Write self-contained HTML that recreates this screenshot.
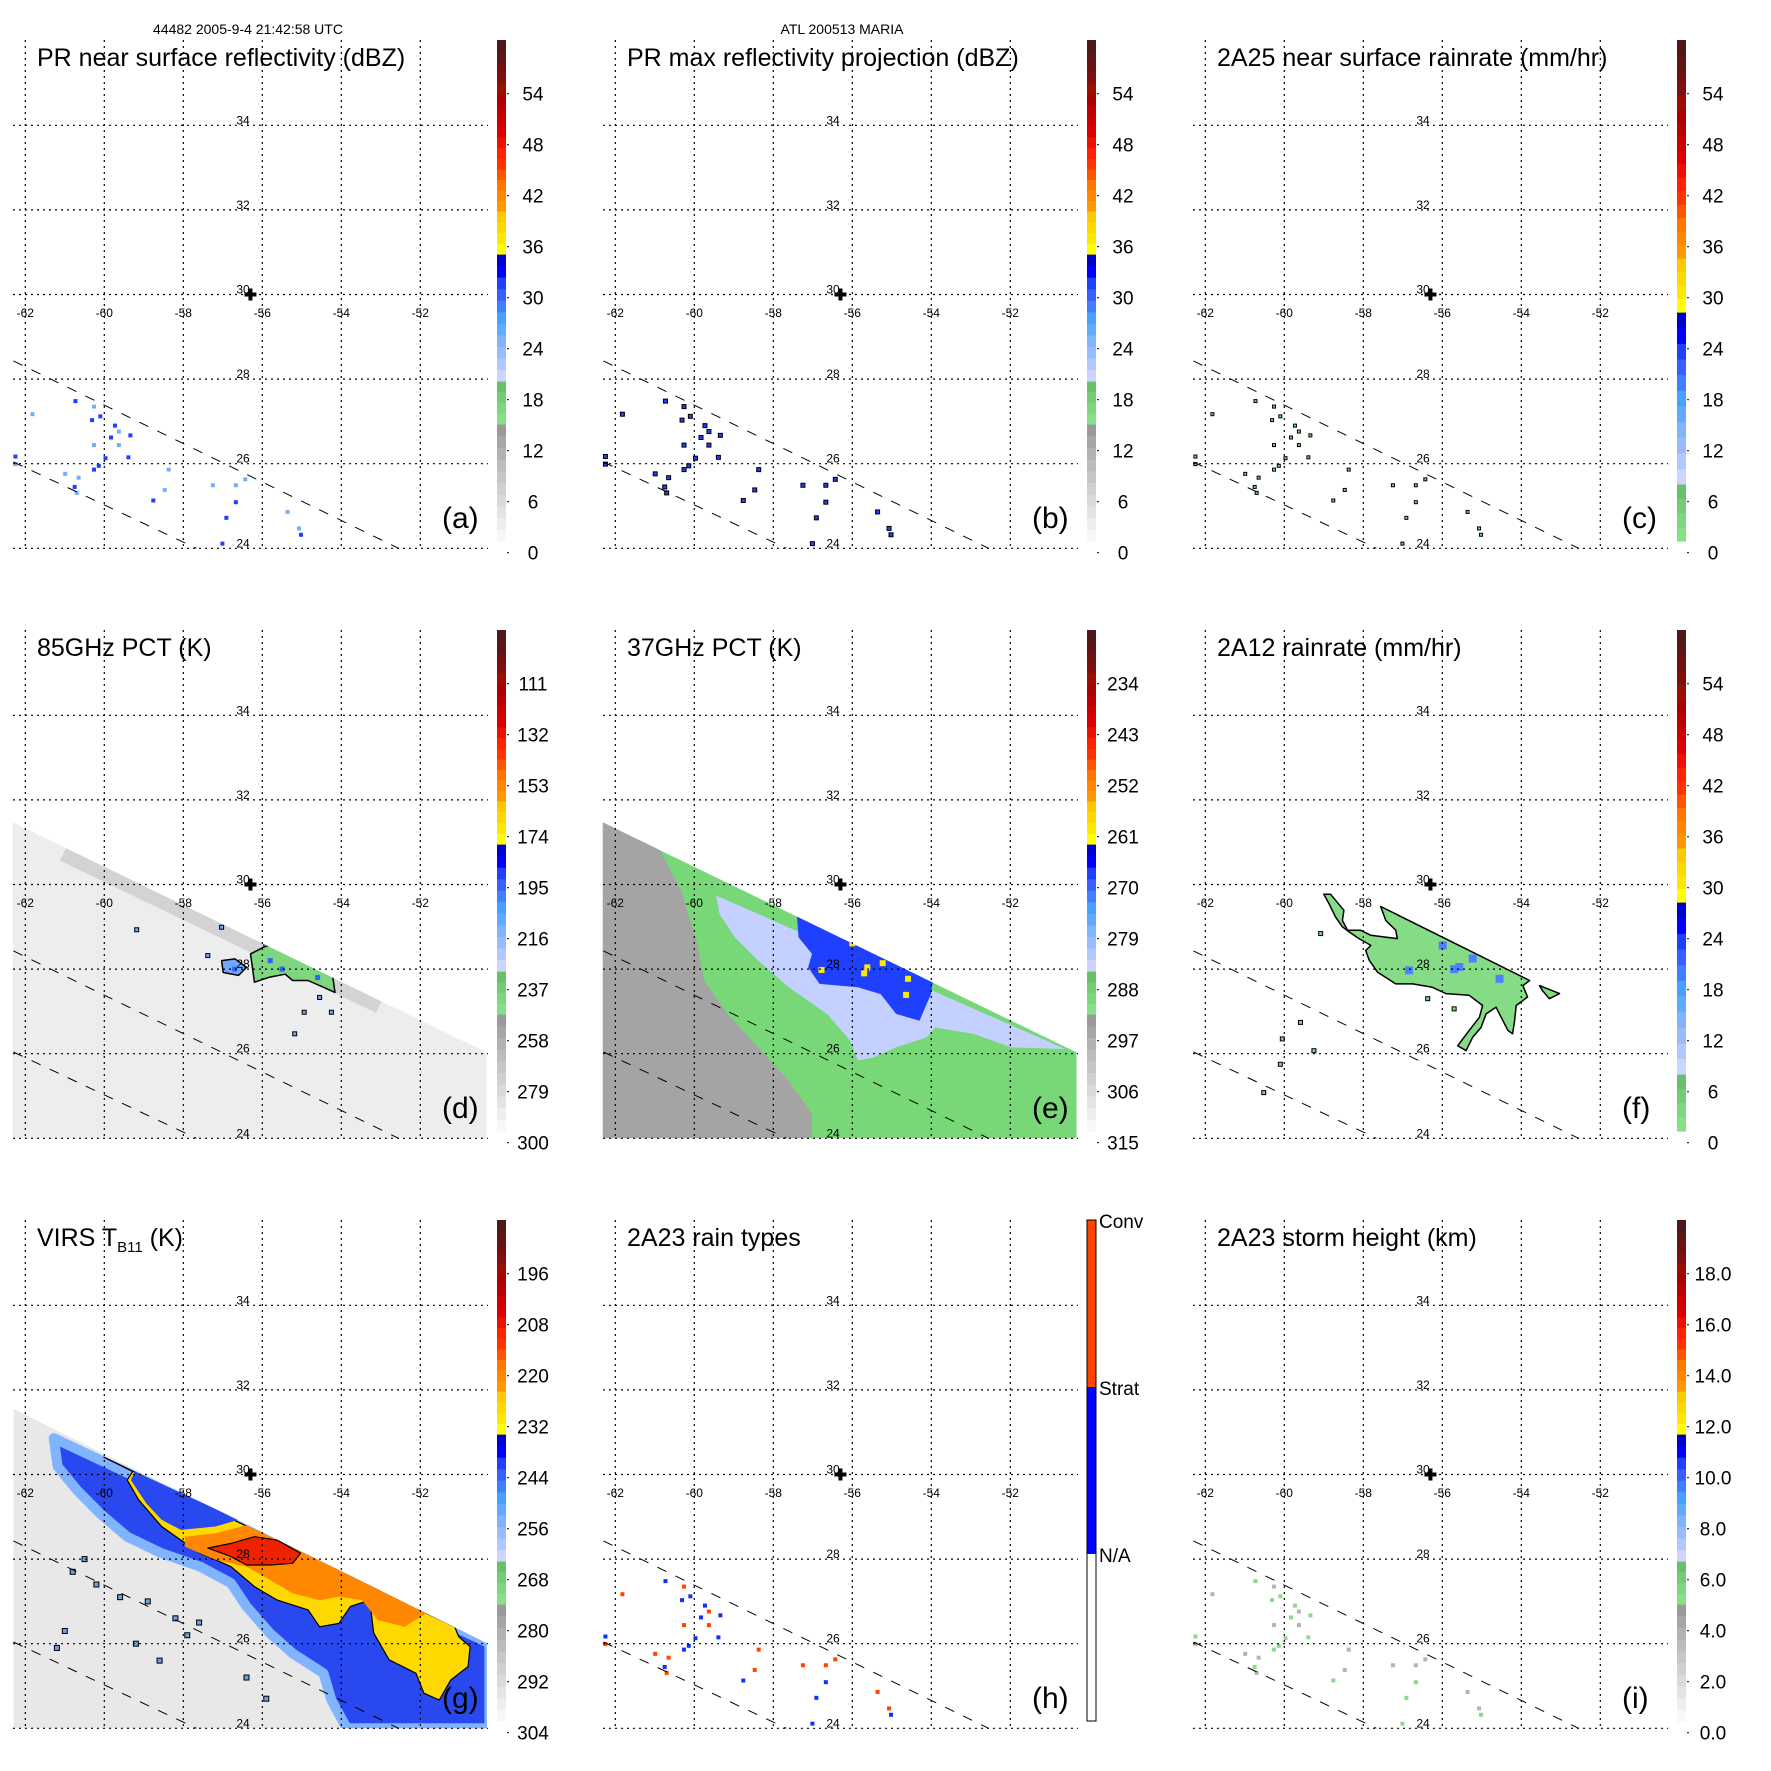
<!DOCTYPE html>
<html><head><meta charset="utf-8"><style>
html,body{margin:0;padding:0;background:#fff;}
svg{display:block;font-family:"Liberation Sans",Arial,sans-serif;}
</style></head><body>
<svg id="fig" width="1771" height="1771" viewBox="0 0 1771 1771" xmlns="http://www.w3.org/2000/svg">
<rect width="1771" height="1771" fill="#fff"/>
<defs id="defs"></defs>
<text x="248" y="34" font-size="14" text-anchor="middle">44482 2005-9-4 21:42:58 UTC</text>
<text x="842" y="34" font-size="14" text-anchor="middle">ATL 200513 MARIA</text>
</svg>
<script>
// ---- data arrays ----
const lonTicks = [-62,-60,-58,-56,-54,-52];
const latTicks = [24,26,28,30,32,34];
const lblRefl = ["0","6","12","18","24","30","36","42","48","54"];
const lbl85 = ["300","279","258","237","216","195","174","153","132","111"];
const lbl37 = ["315","306","297","288","279","270","261","252","243","234"];
const lblVirs = ["304","292","280","268","256","244","232","220","208","196"];
const lblHgt = ["0.0","2.0","4.0","6.0","8.0","10.0","12.0","14.0","16.0","18.0"];
const lblTypes = ["N/A","Strat","Conv"];
const stormCenter = [-56.3, 30.0];
const swathUpper = [[-62.3,28.43],[-52.55,24.0]];
const swathLower = [[-62.3,26.04],[-57.67,24.0]];
const tmiSwath = [[-62.32,31.47],[-50.32,26.03],[-50.32,24.0],[-62.32,24.0]];
const virsSwath = [[-62.30,31.55],[-50.32,26.01],[-50.32,24.0],[-62.30,24.0]];
const prLon = [-60.73,-60.26,-60.10,-59.73,-59.63,-59.83,-59.39,-60.26,-60.26,-60.14,-60.65,-60.75,-62.25,-62.25,-58.37,-56.67,-56.67,-56.91,-55.02,-55.07,-57.01,-56.43,-60.99,-59.97,-59.63,-59.34,-60.70,-58.47,-58.76,-55.36,-61.82,-57.25,-60.31];
const prLat = [27.48,27.35,27.12,26.90,26.76,26.62,26.15,26.44,25.86,25.95,25.67,25.45,26.17,25.99,25.86,25.49,25.09,24.72,24.32,24.47,24.11,25.63,25.76,26.13,26.44,26.67,25.31,25.38,25.13,24.86,27.17,25.49,27.03];
const prType = [1,0,1,1,0,1,1,0,1,1,0,1,1,0,0,0,1,1,1,0,1,0,0,1,0,1,0,0,1,0,0,0,1];
const f_main = [[-59.00,29.77],[-58.83,29.77],[-58.49,29.39],[-58.53,29.15],[-58.40,28.92],[-58.07,28.92],[-57.81,28.80],[-57.14,28.72],[-57.18,28.92],[-57.43,29.15],[-57.56,29.48],[-53.79,27.73],[-53.96,27.61],[-53.84,27.34],[-54.13,27.14],[-54.17,26.78],[-54.22,26.47],[-54.34,26.55],[-54.64,27.10],[-54.89,26.94],[-55.02,26.62],[-55.23,26.39],[-55.40,26.07],[-55.61,26.19],[-55.32,26.55],[-55.06,26.86],[-54.98,27.14],[-55.32,27.38],[-55.91,27.42],[-56.25,27.57],[-56.75,27.65],[-57.18,27.65],[-57.64,27.93],[-57.85,28.21],[-57.94,28.44],[-57.81,28.56],[-58.11,28.72],[-58.36,28.88],[-58.53,29.00],[-58.70,29.23],[-58.87,29.55]];
const f_tail = [[-53.54,27.61],[-53.03,27.42],[-53.29,27.30],[-53.46,27.49]];
const f_blueLon = [-55.57,-55.23,-54.55,-55.99,-56.84,-55.70];
const f_blueLat = [28.05,28.25,27.77,28.56,27.97,28.00];
const f_smallLon = [-59.59,-60.10,-60.52,-59.08,-56.37,-55.70,-59.25,-60.05];
const f_smallLat = [26.74,25.75,25.08,28.84,27.30,27.06,26.07,26.35];
const d_main = [[-56.30,28.36],[-55.81,28.59],[-55.23,28.52],[-54.55,28.16],[-54.25,28.04],[-54.16,27.45],[-54.45,27.57],[-54.84,27.73],[-55.23,27.73],[-55.42,27.88],[-55.81,27.81],[-56.20,27.69],[-56.25,28.04]];
const d_blob = [[-57.03,28.20],[-56.69,28.24],[-56.40,28.04],[-56.60,27.85],[-56.99,27.92]];
const d_smallLon = [-57.03,-57.38,-55.91,-54.55,-54.94,-54.25,-55.18,-59.18];
const d_smallLat = [28.99,28.32,28.59,27.33,26.98,26.98,26.47,28.93];
const e_gray = [[-62.32,31.47],[-60.91,30.88],[-60.33,29.85],[-59.94,28.67],[-59.75,27.73],[-59.16,26.94],[-58.38,26.15],[-57.61,25.36],[-57.02,24.58],[-57.02,24.0],[-62.32,24.0]];
const e_light = [[-59.45,29.74],[-50.61,26.11],[-51.97,26.15],[-52.94,26.47],[-53.91,26.62],[-54.11,26.39],[-54.89,26.15],[-55.47,25.91],[-55.86,25.84],[-56.05,26.31],[-56.64,26.94],[-57.61,27.57],[-58.38,28.20],[-58.97,28.75],[-59.36,29.30]];
const e_dark = [[-57.41,29.34],[-53.91,28.0],[-54.01,27.41],[-54.30,26.78],[-54.89,26.94],[-55.28,27.41],[-55.86,27.57],[-56.83,27.65],[-57.12,28.04],[-57.02,28.36],[-57.36,28.75]];
const e_yLon = [-56.78,-55.62,-55.23,-54.59,-54.64,-56.0,-55.70];
const e_yLat = [27.98,28.04,28.14,27.77,27.39,28.61,27.90];
const g_blue = [[-61.28,30.86],[-50.25,26.01],[-50.25,24.0],[-53.86,24.0],[-54.25,24.67],[-54.45,25.30],[-55.23,25.77],[-55.81,26.25],[-56.40,26.88],[-56.79,27.43],[-57.57,27.82],[-58.55,28.14],[-59.42,28.53],[-60.11,29.08],[-60.69,29.63],[-61.18,30.19]];
const g_yellow = [[-60.01,30.41],[-51.13,26.40],[-51.03,26.17],[-50.74,25.93],[-50.79,25.46],[-51.23,25.14],[-51.52,24.67],[-51.91,24.83],[-52.11,25.30],[-52.79,25.62],[-53.18,26.25],[-53.28,27.03],[-53.77,26.88],[-54.06,26.48],[-54.55,26.40],[-54.84,26.80],[-55.62,27.03],[-56.20,27.35],[-56.79,27.82],[-57.57,28.14],[-58.06,28.45],[-58.55,28.77],[-59.13,29.40],[-59.42,29.87],[-59.28,30.07]];
const g_intr = [[-59.23,30.07],[-56.60,28.93],[-57.18,28.77],[-58.06,28.69],[-58.55,28.93],[-58.94,29.32],[-59.33,29.87]];
const g_orange = [[-56.40,28.80],[-51.81,26.74],[-52.40,26.40],[-53.08,26.56],[-53.47,27.03],[-54.06,27.11],[-54.55,27.03],[-55.23,27.19],[-55.81,27.51],[-56.40,27.82],[-57.18,27.98],[-57.96,28.29],[-57.96,28.53],[-57.18,28.61]];
const g_red = [[-57.38,28.26],[-56.79,28.37],[-56.20,28.53],[-55.62,28.45],[-55.03,28.14],[-55.23,27.90],[-55.81,27.86],[-56.40,27.86],[-56.79,28.06]];
const g_cellLon = [-60.2,-59.6,-58.9,-58.2,-57.6,-61.0,-60.8,-59.2,-58.6,-57.9,-61.2,-56.4,-55.9,-60.5];
const g_cellLat = [27.4,27.1,27.0,26.6,26.5,26.3,27.7,26.0,25.6,26.2,25.9,25.2,24.7,28.0];

// ---- helpers ----
const NS = "http://www.w3.org/2000/svg";
const svg = document.getElementById("fig");
const defs = document.getElementById("defs");
function el(tag, attrs, parent){ const e=document.createElementNS(NS,tag); for(const k in attrs) e.setAttribute(k,attrs[k]); (parent||svg).appendChild(e); return e; }
function axes(col,row){ const ox=col*590, oy=row*590; return { ox, oy, x:lon=>ox+25.3+(lon+62)*39.5, y:lat=>oy+548.3-(lat-24)*42.3 }; }
function polyPts(a,pts){ return pts.map(p=>a.x(p[0]).toFixed(1)+","+a.y(p[1]).toFixed(1)).join(" "); }
function clipGroup(a, pts, id){
  const cp = el("clipPath",{id:id},defs);
  el("polygon",{points:polyPts(a,pts)},cp);
  const g = el("g",{"clip-path":"url(#"+id+")"});
  
  
  return g;
}

const cRefl = [["#f7f7f7","#eeeeee","#e4e4e4","#dadada","#d0d0d0","#c6c6c6","#bcbcbc","#b2b2b2","#a6a6a6","#9a9a9a"],["#86e086","#7ed67e","#74cc74","#6abf6a"],["#ccd4ff","#b0c8ff","#98bcff","#80b4ff","#60aaff","#48a0ff","#4080ff","#3860ff","#2040ff","#0000ff","#0000cc"],["#ffff00","#ffe800","#ffd800","#ffc800"],["#ff9900","#ff8800","#ff7700","#ff5500"],["#ff3300","#ff2200","#ee1100","#dd0000"],["#cc0000","#bb0000","#aa0000","#991000"],["#801010","#701010","#601515","#501818"]];
const hRefl = [117,43,127,43,42,43,43,43];
const hRain = [0,57,172,54,54,54,55,55];

function colorbar(a, groups, heights, labels, name){
  const g = el("g",{});
  
  
  let yb = a.oy+541;
  groups.forEach((cols,gi)=>{
    const h = heights[gi]; if(!h) return;
    const sh = h/cols.length;
    cols.forEach((c,i)=>{ el("rect",{x:a.ox+497,y:(yb-(i+1)*sh).toFixed(2),width:9,height:(sh+0.6).toFixed(2),fill:c},g); });
    yb -= h;
  });
  labels.forEach((t,k)=>{
    const yy = a.oy+552.7-51*k;
    el("rect",{x:a.ox+507,y:yy-0.5,width:2,height:1,fill:"#000"},g);
    const tx = el("text",{x:a.ox+533,y:yy+7,"font-size":19,"text-anchor":"middle"},g);
    tx.textContent = t;
    
    
  });
}

function frame(a, title, letter){
  const g = el("g",{});
  
  
  lonTicks.forEach(lon=>{
    el("line",{x1:a.x(lon),x2:a.x(lon),y1:a.oy+40,y2:a.oy+549,stroke:"#000","stroke-width":1.2,"stroke-dasharray":"2,4"},g);
    const t = el("text",{x:a.x(lon),y:a.oy+317,"font-size":12,"text-anchor":"middle"},g);
    t.textContent = lon;
    
    
  });
  latTicks.forEach(lat=>{
    el("line",{x1:a.ox+13,x2:a.ox+488,y1:a.y(lat),y2:a.y(lat),stroke:"#000","stroke-width":1.2,"stroke-dasharray":"2,4"},g);
    const t = el("text",{x:a.ox+243,y:a.y(lat)-1,"font-size":12,"text-anchor":"middle"},g);
    t.textContent = lat;
    
    
  });
  [swathUpper,swathLower].forEach(s=>{
    const l = el("line",{x1:a.x(s[0][0]),y1:a.y(s[0][1]),x2:a.x(s[1][0]),y2:a.y(s[1][1]),stroke:"#000","stroke-width":1,"stroke-dasharray":"10,10"},g);
    
    
  });
  const cx=a.x(stormCenter[0]), cy=a.y(stormCenter[1]);
  const cr = el("g",{});
  
  
  el("rect",{x:cx-6,y:cy-2,width:12,height:4,fill:"#000"},cr);
  el("rect",{x:cx-2,y:cy-6,width:4,height:12,fill:"#000"},cr);
  const tt = el("text",{x:a.ox+37,y:a.oy+66,"font-size":25},svg);
  tt.innerHTML = title;
  
  
  const lt = el("text",{x:a.ox+442,y:a.oy+528,"font-size":30},svg);
  lt.textContent = letter;
  
  
}

function region(a, pts, fill, stroke, sw, name, parent){
  const p = el("polygon",{points:polyPts(a,pts),fill:fill,stroke:stroke||"none","stroke-width":sw||0,"stroke-linejoin":"round"},parent);
  
  
  return p;
}
function dots(a, lons, lats, colorFn, size, stroke, name, parent){
  lons.forEach((lon,i)=>{
    const r = el("rect",{x:a.x(lon)-size/2,y:a.y(lats[i])-size/2,width:size,height:size,fill:colorFn(i),stroke:stroke||"none","stroke-width":1},parent);
    
    
  });
}

// (a)
let A = axes(0,0);
dots(A, prLon, prLat, i=>prType[i]?"#2040ff":"#70b0ff", 4, null, 'pr-reflectivity-pixel');
frame(A, "PR near surface reflectivity (dBZ)", "(a)");
colorbar(A, cRefl, hRefl, lblRefl, 'colorbar-a');
// (b)
A = axes(1,0);
dots(A, prLon, prLat, i=>"#2040ff", 4, "#000", 'pr-max-reflectivity-pixel');
frame(A, "PR max reflectivity projection (dBZ)", "(b)");
colorbar(A, cRefl, hRefl, lblRefl, 'colorbar-b');
// (c)
A = axes(2,0);
dots(A, prLon, prLat, i=>"#7ed67e", 3, "#000", 'pr-rainrate-pixel');
frame(A, "2A25 near surface rainrate (mm/hr)", "(c)");
colorbar(A, cRefl, hRain, lblRefl, 'colorbar-c');
// (d)
A = axes(0,1);
let G = clipGroup(A, tmiSwath, "clipD");
region(A, tmiSwath, "#ededed", null, 0, 'tmi-swath-85ghz', G);
el("line",{x1:A.x(-61),y1:A.y(30.8),x2:A.x(-53),y2:A.y(27.2),stroke:"#cccccc","stroke-width":22,opacity:0.8},G);
region(A, d_main, "#7ed67e", "#000", 1.5, 'pct85-cold-region', G);
region(A, d_blob, "#70a8ff", "#000", 1.5, 'pct85-cold-cell', G);
dots(A, [-55.8,-55.5,-55.1,-54.6,-56.7], [28.2,28.0,28.3,27.8,28.0], i=>"#3060ff", 5, null, 'pct85-blue-pixel', G);
dots(A, d_smallLon, d_smallLat, i=>"#70a8ff", 4, "#000", 'pct85-small-cell', G);
frame(A, "85GHz PCT (K)", "(d)");
colorbar(A, cRefl, hRefl, lbl85, 'colorbar-d');
// (e)
A = axes(1,1);
G = clipGroup(A, tmiSwath, "clipE");
region(A, tmiSwath, "#78d878", null, 0, 'tmi-swath-37ghz', G);
region(A, e_gray, "#a4a4a4", null, 0, 'pct37-warm-region', G);
region(A, e_light, "#c4d0ff", null, 0, 'pct37-light-region', G);
region(A, e_dark, "#2040ff", null, 0, 'pct37-cold-region', G);
dots(A, e_yLon, e_yLat, i=>"#ffe800", 6, null, 'pct37-yellow-pixel', G);
frame(A, "37GHz PCT (K)", "(e)");
colorbar(A, cRefl, hRefl, lbl37, 'colorbar-e');
// (f)
A = axes(2,1);
region(A, f_main, "#86dc86", "#000", 1.5, '2a12-rain-region');
region(A, f_tail, "#86dc86", "#000", 1.5, '2a12-rain-tail');
dots(A, f_blueLon, f_blueLat, i=>"#5080ff", 8, null, '2a12-heavy-rain');
dots(A, f_smallLon, f_smallLat, i=>"#7ed67e", 4, "#000", '2a12-small-cell');
frame(A, "2A12 rainrate (mm/hr)", "(f)");
colorbar(A, cRefl, hRain, lblRefl, 'colorbar-f');
// (g)
A = axes(0,2);
G = clipGroup(A, virsSwath, "clipG");
region(A, virsSwath, "#e8e8e8", null, 0, 'virs-swath', G);
region(A, g_blue, "#2a48f0", "#80b4ff", 10, 'virs-cold-cloud', G);
region(A, g_yellow, "#ffd800", "#000", 1.2, 'virs-yellow-cloud', G);
region(A, g_intr, "#2a48f0", null, 0, 'virs-blue-intrusion', G);
region(A, g_orange, "#ff8800", null, 0, 'virs-orange-cloud', G);
region(A, g_red, "#ee2200", "#000", 1.2, 'virs-red-cloud', G);
dots(A, g_cellLon, g_cellLat, i=>"#6ea0e0", 5, "#000", 'virs-small-cell', G);
frame(A, "VIRS T<tspan font-size='15' dy='6'>B11</tspan><tspan dy='-6'> (K)</tspan>", "(g)");
colorbar(A, cRefl, hRefl, lblVirs, 'colorbar-g');
// (h)
A = axes(1,2);
dots(A, prLon, prLat, i=>prType[i]?"#1030ff":"#ff4400", 4, null, 'rain-type-pixel');
frame(A, "2A23 rain types", "(h)");
(function(){
  const g = el("g",{});
  
  
  const cols = ["#ffffff","#0000ff","#ff4400"];
  cols.forEach((c,i)=>{ el("rect",{x:A.ox+497,y:A.oy+541-(i+1)*167,width:9,height:167,fill:c},g); });
  el("rect",{x:A.ox+497,y:A.oy+40,width:9,height:501,fill:"none",stroke:"#000","stroke-width":1},g);
  lblTypes.forEach((t,i)=>{
    const tx = el("text",{x:A.ox+509,y:A.oy+541-i*167-159,"font-size":19},g);
    tx.textContent = t;
    
    
  });
})();
// (i)
A = axes(2,2);
dots(A, prLon, prLat, i=>prType[i]?"#8cd88c":"#b4b4b4", 4, null, 'storm-height-pixel');
frame(A, "2A23 storm height (km)", "(i)");
colorbar(A, cRefl, hRefl, lblHgt, 'colorbar-i');
</script>
</body></html>
